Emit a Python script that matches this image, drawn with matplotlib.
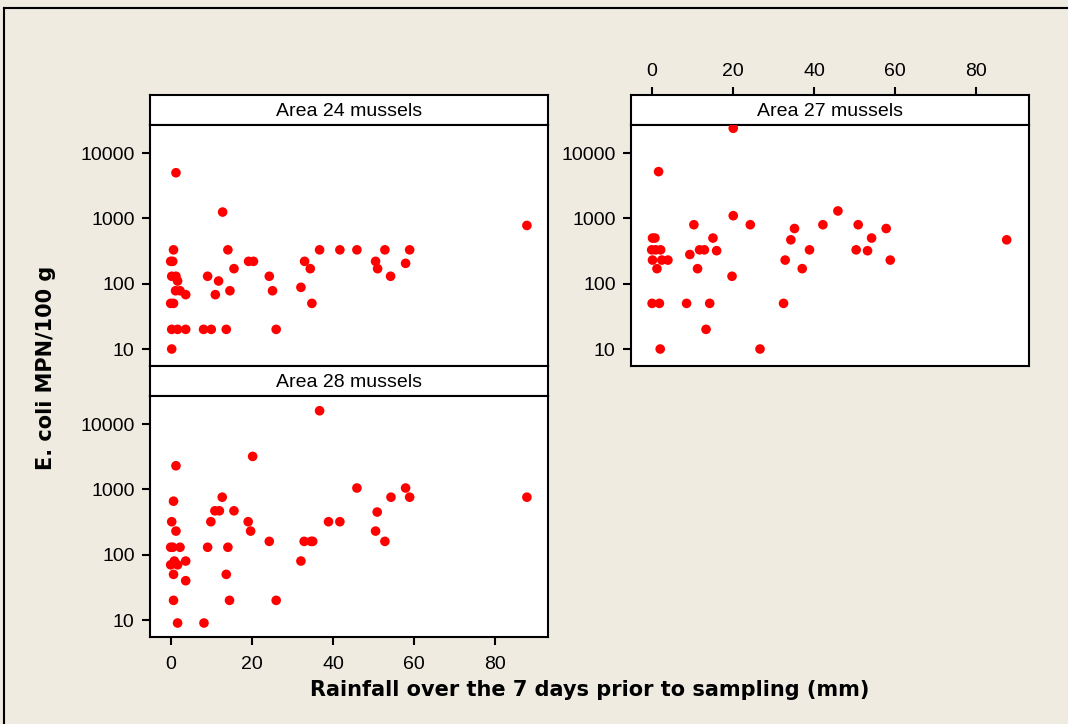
import matplotlib
matplotlib.use("Agg")
import matplotlib.pyplot as plt
from matplotlib.lines import Line2D

plt.rcParams["font.family"] = ["Liberation Sans", "DejaVu Sans"]

# rainfall (mm) and E. coli MPN/100 g for each area
area24_x = [1.3, 12.8, 87.8,
            0.7, 14.1, 36.7, 41.7, 45.9, 52.8, 58.9,
            0.0, 0.5, 19.2, 20.4, 33.0, 50.5, 57.9,
            15.6, 34.4, 51.0,
            0.25, 1.3, 9.1, 24.3, 54.2,
            1.7, 11.8,
            1.2, 2.3, 14.6, 25.1, 3.7, 11.0, 32.1,
            0.0, 0.7, 34.8,
            0.25, 1.7, 3.7, 8.1, 10.0, 13.7, 26.0,
            0.25]
area24_y = [5000, 1250, 780,
            330, 330, 330, 330, 330, 330, 330,
            220, 220, 220, 220, 220, 220, 205,
            170, 170, 170,
            130, 130, 130, 130, 130,
            110, 110,
            78, 78, 78, 78, 68, 68, 88,
            50, 50, 50,
            20, 20, 20, 20, 20, 20, 20,
            10]

area27_x = [20.1, 1.7, 45.9, 20.1,
            10.4, 24.3, 42.2, 50.9,
            35.2, 57.8,
            0.2, 0.8, 15.1, 54.2,
            87.5, 34.3,
            0.0, 1.0, 2.2, 11.8, 13.0, 38.9, 50.4, 16.0, 53.2,
            0.2, 2.5, 4.0, 32.9, 58.8,
            9.4,
            1.3, 11.3, 37.1,
            19.8,
            0.1, 1.9, 8.6, 14.3, 32.5,
            13.4,
            2.1, 26.7]
area27_y = [24000, 5200, 1300, 1100,
            800, 800, 800, 800,
            700, 700,
            500, 500, 500, 500,
            470, 470,
            330, 330, 330, 330, 330, 330, 330, 320, 320,
            230, 230, 230, 230, 230,
            280,
            170, 170, 170,
            130,
            50, 50, 50, 50, 50,
            20,
            10, 10]

area28_x = [36.7, 20.2, 1.3, 45.9, 57.9,
            12.7, 54.3, 58.9, 87.8,
            0.7,
            10.9, 12.0, 15.6, 50.9,
            0.25, 9.9, 19.1, 38.9, 41.7,
            1.3, 19.7, 50.5,
            24.3, 32.9, 34.6, 35.0, 52.8,
            0.0, 0.5, 2.3, 9.1, 14.1,
            0.9, 3.7, 32.1,
            0.0, 1.7,
            0.7, 13.7,
            3.7,
            0.7, 14.5, 26.0,
            1.7, 8.2]
area28_y = [16000, 3200, 2300, 1050, 1050,
            760, 760, 760, 760,
            660,
            470, 470, 470, 450,
            320, 320, 320, 320, 320,
            230, 230, 230,
            160, 160, 160, 160, 160,
            130, 130, 130, 130, 130,
            80, 80, 80,
            70, 70,
            50, 50,
            40,
            20, 20, 20,
            9, 9]

x_ticks = [0, 20, 40, 60, 80]
y_ticks = [10, 100, 1000, 10000]
y_ticklabels = ["10", "100", "1000", "10000"]

bg = "#efebe1"
W, H = 1068, 724

fig = plt.figure(figsize=(W / 100, H / 100), dpi=100, facecolor=bg)

def box(left, top, width, height):
    # pixel box -> figure fraction
    return [left / W, 1 - (top + height) / H, width / W, height / H]

def make_panel(px_left, px_top, title, xs, ys, bottom_ticks=False, top_ticks=False):
    strip = fig.add_axes(box(px_left, px_top, 398, 30))
    ax = fig.add_axes(box(px_left, px_top + 30, 398, 241))

    ax.scatter(xs, ys, s=48, color="#ff0000", edgecolors="none", zorder=3)
    ax.set_yscale("log")
    ax.set_xlim(-5.1, 93)
    ax.set_ylim(10 ** 0.74, 10 ** 4.43)
    ax.set_yticks(y_ticks)
    ax.set_yticklabels(y_ticklabels)
    ax.minorticks_off()
    ax.tick_params(axis="y", direction="out", length=6, width=1.5, pad=5, labelsize=14)
    if bottom_ticks:
        ax.set_xticks(x_ticks)
        ax.tick_params(axis="x", direction="out", length=6, width=1.5, pad=8, labelsize=14)
    else:
        ax.set_xticks([])
    for sp in ax.spines.values():
        sp.set_linewidth(1.5)

    strip.set_xlim(-5.1, 93)
    strip.set_yticks([])
    if top_ticks:
        strip.set_xticks(x_ticks)
        strip.xaxis.tick_top()
        strip.tick_params(axis="x", direction="out", length=6, width=1.5, pad=5, labelsize=14)
    else:
        strip.set_xticks([])
    for sp in strip.spines.values():
        sp.set_linewidth(1.5)
    strip.text(0.5, 0.45, title, transform=strip.transAxes, ha="center", va="center",
               fontsize=14)
    return ax

make_panel(150, 95, "Area 24 mussels", area24_x, area24_y)
make_panel(150, 366, "Area 28 mussels", area28_x, area28_y, bottom_ticks=True)
make_panel(631, 95, "Area 27 mussels", area27_x, area27_y, top_ticks=True)

fig.text(46 / W, 1 - 368 / H, "E. coli MPN/100 g", rotation=90, ha="center", va="center",
         fontsize=15, fontweight="bold", family="DejaVu Sans")
fig.text(590 / W, 1 - 690 / H, "Rainfall over the 7 days prior to sampling (mm)",
         ha="center", va="center", fontsize=15, fontweight="bold", family="DejaVu Sans")

# partial outer frame
fig.add_artist(Line2D([4 / W, 1], [1 - 8 / H, 1 - 8 / H], color="black", linewidth=1.5,
                      transform=fig.transFigure))
fig.add_artist(Line2D([4 / W, 4 / W], [0, 1 - 8 / H], color="black", linewidth=1.5,
                      transform=fig.transFigure))

fig.savefig("out.png", dpi=100, facecolor=bg)
